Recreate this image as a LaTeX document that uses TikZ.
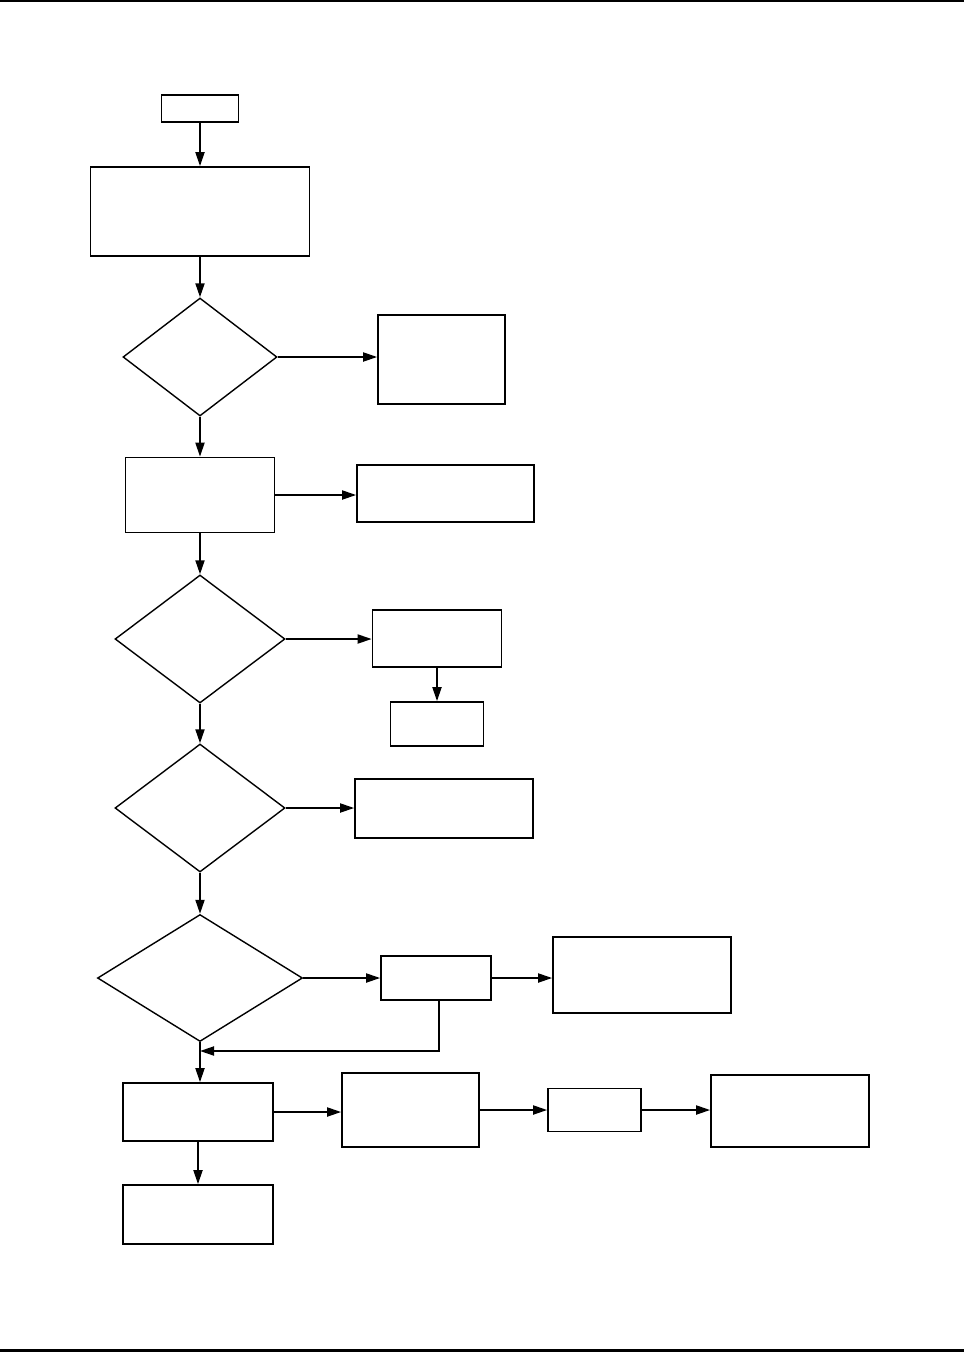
\documentclass[tikz,border=0pt]{standalone}
\usetikzlibrary{shapes.geometric,arrows.meta}
\begin{document}
\begin{tikzpicture}[x=1pt, y=-1pt,
		box/.style={draw, rectangle, line width=1.7pt, inner sep=0},
		dia/.style={draw, diamond, line width=1.4pt, inner sep=0},
		arr/.style={-{Triangle[length=14pt, width=9pt]}, line width=1.9pt}]
	\useasboundingbox (0,0) rectangle (964,1352);
	\draw[line width=2.5pt] (0,1.2) -- (964,1.2);
	\draw[line width=2.5pt] (0,1350.6) -- (964,1350.6);
	% main column
	\node (start) [box, minimum width=77, minimum height=27] at (200,108.5) {};
	\node (init) [box, minimum width=219, minimum height=89] at (200,211.5) {};
	\node (q1) [dia, minimum width=154, minimum height=118] at (200,357) {};
	\node (s2) [box, minimum width=149, minimum height=75] at (200,495) {};
	\node (q2) [dia, minimum width=170, minimum height=128] at (200,639) {};
	\node (q3) [dia, minimum width=170, minimum height=128] at (200,808) {};
	\node (q4) [dia, minimum width=205, minimum height=127] at (200,978) {};
	\node (s3) [box, minimum width=150, minimum height=58] at (198,1112) {};
	\node (s4) [box, minimum width=150, minimum height=59] at (198,1214.5) {};
	% side branches
	\node (r1) [box, minimum width=127, minimum height=89] at (441.5,359.5) {};
	\node (r2) [box, minimum width=177, minimum height=57] at (445.5,493.5) {};
	\node (r3) [box, minimum width=129, minimum height=57] at (437,638.5) {};
	\node (r3b) [box, minimum width=93, minimum height=44] at (437,724) {};
	\node (r4) [box, minimum width=178, minimum height=59] at (444,808.5) {};
	\node (r5) [box, minimum width=110, minimum height=44] at (436,978) {};
	\node (r5b) [box, minimum width=178, minimum height=76] at (642,975) {};
	\node (r6) [box, minimum width=137, minimum height=74] at (410.5,1110) {};
	\node (r7) [box, minimum width=93, minimum height=43] at (594.5,1110) {};
	\node (r8) [box, minimum width=158, minimum height=72] at (790,1111) {};
	\coordinate (join) at (200,1051);
	\draw[arr] (start) -- (init);
	\draw[arr] (init) -- (q1);
	\draw[arr] (q1) -- (s2);
	\draw[arr] (s2) -- (q2);
	\draw[arr] (q2) -- (q3);
	\draw[arr] (q3) -- (q4);
	\draw[arr] (q4.south) -- (s3.north -| q4.south);
	\draw[arr] (s3) -- (s4);
	\draw[arr] (q1.east) -- (r1.west |- q1.east);
	\draw[arr] (s2.east) -- (r2.west |- s2.east);
	\draw[arr] (q2.east) -- (r3.west |- q2.east);
	\draw[arr] (r3) -- (r3b);
	\draw[arr] (q3.east) -- (r4.west |- q3.east);
	\draw[arr] (q4.east) -- (r5.west |- q4.east);
	\draw[arr] (r5.east) -- (r5b.west |- r5.east);
	\draw[arr] ([xshift=3pt]r5.south) |- (join);
	\draw[arr] (s3.east) -- (r6.west |- s3.east);
	\draw[arr] (r6.east) -- (r7.west |- r6.east);
	\draw[arr] (r7.east) -- (r8.west |- r7.east);
\end{tikzpicture}
\end{document}
